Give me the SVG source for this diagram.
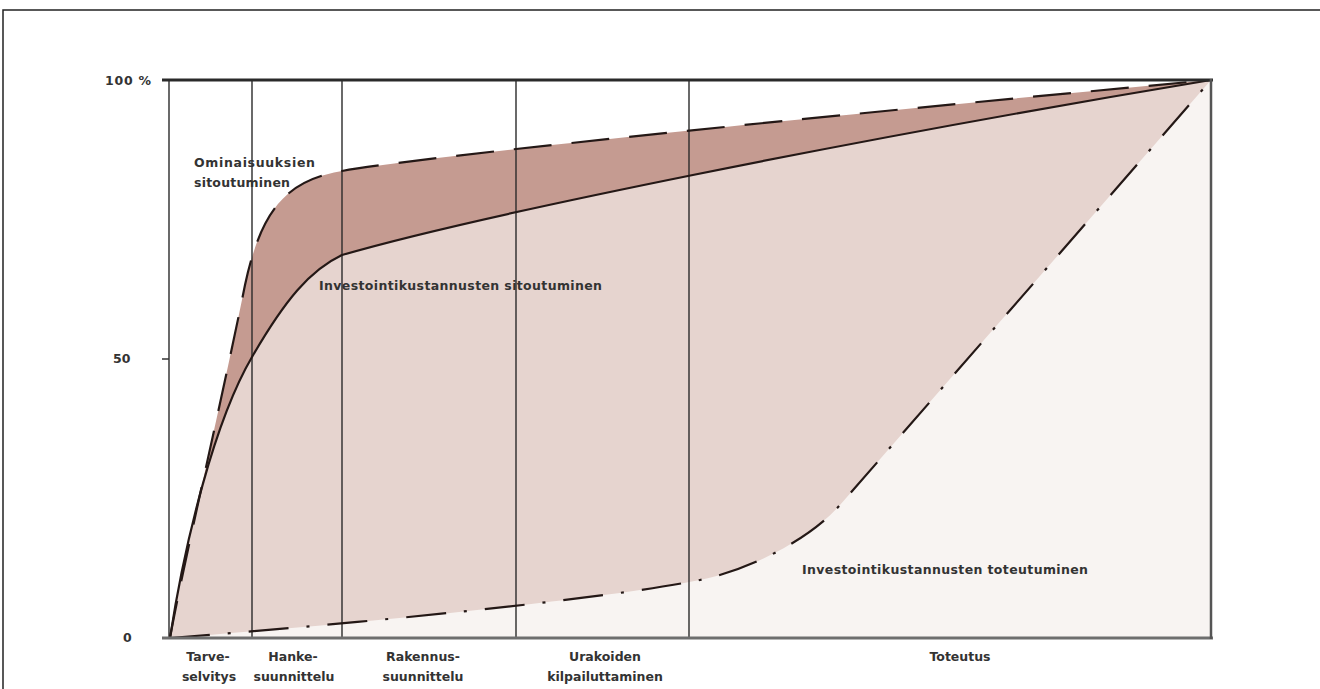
<svg xmlns="http://www.w3.org/2000/svg" width="1320" height="689" viewBox="0 0 1320 689">
  <defs>
    <style>
      .lbl { font-family: "DejaVu Sans", "Liberation Sans", sans-serif; font-weight: bold; font-size: 12.5px; fill: #333; }
      .ax { font-family: "DejaVu Sans", "Liberation Sans", sans-serif; font-weight: bold; font-size: 12.5px; fill: #333; }
      .mid { text-anchor: middle; }
      .phase { stroke: #2a2a2a; stroke-width: 1.4; fill: none; }
      .curve { fill: none; stroke: #241816; stroke-width: 2.2; stroke-linecap: butt; }
    </style>
  </defs>

  <rect width="1320" height="689" fill="#ffffff"/>
  <!-- outer frame -->
  <rect x="3" y="10" width="1340" height="700" fill="none" stroke="#222" stroke-width="1.5"/>

  <!-- filled areas under each curve, layered -->
  <g id="areas">
    <!-- below the "Ominaisuuksien sitoutuminen" curve -->
    <path fill="#c59b91" d="M170,638 C182,570 222,400 245,285 C262,205 290,180 342,171 C420,157 800,118 1211,80 L1211,638 Z"/>
    <!-- below the "Investointikustannusten sitoutuminen" curve -->
    <path fill="#e6d4cf" d="M170,638 C185,540 215,420 252,357 C285,300 310,270 342,255 C480,215 850,140 1211,80 L1211,638 Z"/>
    <!-- below the "Investointikustannusten toteutuminen" curve -->
    <path fill="#f8f4f2" d="M170,638 C350,624 600,600 700,580 C750,570 810,539 840,505 L1211,80 L1211,638 Z"/>
  </g>

  <!-- phase boundaries -->
  <g id="phases">
    <line class="phase" x1="169" y1="80" x2="169" y2="638"/>
    <line class="phase" x1="252" y1="80" x2="252" y2="638"/>
    <line class="phase" x1="342" y1="80" x2="342" y2="638"/>
    <line class="phase" x1="516" y1="80" x2="516" y2="638"/>
    <line class="phase" x1="689" y1="80" x2="689" y2="638"/>
  </g>

  <!-- connectors: the three curves -->
  <g id="connectors">
    <path id="c-ominaisuudet" class="curve" stroke-dasharray="38 20"
          d="M170,638 C182,570 222,400 245,285 C262,205 290,180 342,171 C420,157 800,118 1211,80"/>
    <path id="c-sitoutuminen" class="curve"
          d="M170,638 C185,540 215,420 252,357 C285,300 310,270 342,255 C480,215 850,140 1211,80"/>
    <path id="c-toteutuminen" class="curve" stroke-dasharray="40 18 3 18"
          d="M170,638 C350,624 600,600 700,580 C750,570 810,539 840,505 L1211,80"/>
  </g>

  <!-- axes -->
  <g id="axes">
    <line x1="162" y1="80" x2="1213" y2="80" stroke="#2a2a2a" stroke-width="3"/>
    <line x1="162" y1="638" x2="1213" y2="638" stroke="#6e6e6e" stroke-width="3"/>
    <line x1="1211" y1="79" x2="1211" y2="639" stroke="#555" stroke-width="2.5"/>
    <line x1="162" y1="359" x2="169" y2="359" stroke="#333" stroke-width="1.5"/>
    <text class="ax" x="105" y="85" textLength="46">100 %</text>
    <text class="ax" x="113" y="363">50</text>
    <text class="ax" x="123" y="642">0</text>
  </g>

  <!-- curve labels -->
  <g id="curve-labels">
    <text class="lbl" x="194" y="167" textLength="121">Ominaisuuksien</text>
    <text class="lbl" x="194" y="187" textLength="96">sitoutuminen</text>
    <text class="lbl" x="319" y="290" textLength="283">Investointikustannusten sitoutuminen</text>
    <text class="lbl" x="802" y="574" textLength="286">Investointikustannusten toteutuminen</text>
  </g>

  <!-- phase names -->
  <g id="phase-labels">
    <text class="lbl mid" x="208" y="661">Tarve-</text>
    <text class="lbl mid" x="209" y="681">selvitys</text>
    <text class="lbl mid" x="293" y="661">Hanke-</text>
    <text class="lbl mid" x="294" y="681">suunnittelu</text>
    <text class="lbl mid" x="423" y="661">Rakennus-</text>
    <text class="lbl mid" x="423" y="681">suunnittelu</text>
    <text class="lbl mid" x="605" y="661">Urakoiden</text>
    <text class="lbl mid" x="605" y="681">kilpailuttaminen</text>
    <text class="lbl mid" x="960" y="661">Toteutus</text>
  </g>
</svg>
